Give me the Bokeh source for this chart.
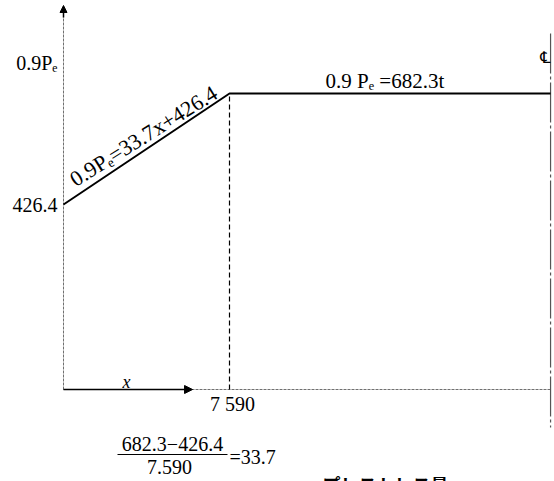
from bokeh.plotting import figure
from bokeh.models import Arrow, NormalHead
from bokeh.core.properties import value
from bokeh.embed import file_html
from bokeh.resources import INLINE

# ---- data (x in mm along member, y in t) ----
x_points = [0, 7590, 22270]          # start, end of slope, centre line
y_points = [426.4, 682.3, 682.3]     # 0.9Pe values
x_break = 7590
x_center = 22270
y_ticks = [426.4, 752.0]
y_tick_labels = ["426.4", "0.9Pₑ"]
x_tick = [7590]
x_tick_labels = ["7 590"]
slope_label = "0.9Pₑ=33.7x+426.4"
flat_label = "0.9 Pₑ =682.3t"
frac_num = "682.3−426.4"
frac_den = "7.590"
frac_res = "=33.7"
caption = "プレストレス量"

SERIF = value("Liberation Serif")
FS = "20px"
W, H = 554, 481
ux = 7590 / 166.0      # data units per pixel (x)
uy = 682.3 / 296.0     # data units per pixel (y)
x0_px, y0_px = 63, 389

p = figure(width=W, height=H, output_backend="svg", toolbar_location=None,
           x_range=(-x0_px * ux, (W - x0_px) * ux),
           y_range=(-(H - y0_px) * uy, y0_px * uy),
           x_axis_location=None, y_axis_location=None, min_border=0)
p.outline_line_color = None
p.grid.visible = False

def px(xp):
    return (xp - x0_px) * ux
def py(yp):
    return (y0_px - yp) * uy

# axes lines
p.line([0, 0], [0, py(5)], line_color="#707070", line_width=1, line_dash="3 1")
p.line([0, x_center], [0, 0], line_color="#707070", line_width=1, line_dash="3 1")

# y-axis arrow head
p.add_layout(Arrow(end=NormalHead(size=7, fill_color="black", line_color="black"),
                   x_start=0, y_start=py(17), x_end=0, y_end=py(5),
                   line_color="black", line_width=1.5))
# x direction arrow
p.add_layout(Arrow(end=NormalHead(size=8, fill_color="black", line_color="black"),
                   x_start=0, y_start=0, x_end=5900, y_end=0,
                   line_color="black", line_width=1.5))
p.text(x=[px(126)], y=[py(381)], text=["x"], text_font=SERIF, text_font_style="italic",
       text_font_size="18px", text_align="center", text_baseline="middle", text_color="black")

# centre line
p.line([x_center, x_center], [py(33), py(427)], line_color="#555555", line_width=1.2,
       line_dash="40 3 3 3")
p.text(x=[px(545)], y=[py(57)], text=["℄"], text_font=value("DejaVu Sans"),
       text_font_size="16px", text_align="center", text_baseline="middle", text_color="black")

# main line
p.line(x_points, y_points, line_color="black", line_width=2)
# dashed vertical at slope end
p.line([x_break, x_break], [0, y_points[1]], line_color="black", line_width=1.2,
       line_dash="5 3")

# y tick labels
p.text(x=[px(57)] * len(y_ticks), y=y_ticks, text=y_tick_labels, text_font=SERIF,
       text_font_size=FS, text_align="right", text_baseline="middle", text_color="black")
# x tick label
p.text(x=[px(232)], y=[py(403)], text=x_tick_labels, text_font=SERIF,
       text_font_size=FS, text_align="center", text_baseline="middle", text_color="black")

# slope label (along line)
p.text(x=[px(78)], y=[py(191)], text=[slope_label], angle=0.56, text_font=SERIF,
       text_font_size="22px", text_align="left", text_baseline="bottom", text_color="black")
# flat label
p.text(x=[px(325)], y=[py(80)], text=[flat_label], text_font=SERIF,
       text_font_size="21px", text_align="left", text_baseline="middle", text_color="black")

# fraction
p.text(x=[px(172)], y=[py(443)], text=[frac_num], text_font=SERIF,
       text_font_size=FS, text_align="center", text_baseline="middle", text_color="black")
p.line([px(117), px(227)], [py(454), py(454)], line_color="black", line_width=1)
p.text(x=[px(169)], y=[py(466)], text=[frac_den], text_font=SERIF,
       text_font_size=FS, text_align="center", text_baseline="middle", text_color="black")
p.text(x=[px(229)], y=[py(456)], text=[frac_res], text_font=SERIF,
       text_font_size=FS, text_align="left", text_baseline="middle", text_color="black")

# caption (cut off at bottom edge, as in the reference)
p.text(x=[px(322)], y=[py(470)], text=[caption], text_font=value("Noto Sans CJK JP"),
       text_font_size="18px", text_align="left", text_baseline="top", text_color="black",
       text_font_style="bold")

open("out.html", "w").write(file_html(p, INLINE))
